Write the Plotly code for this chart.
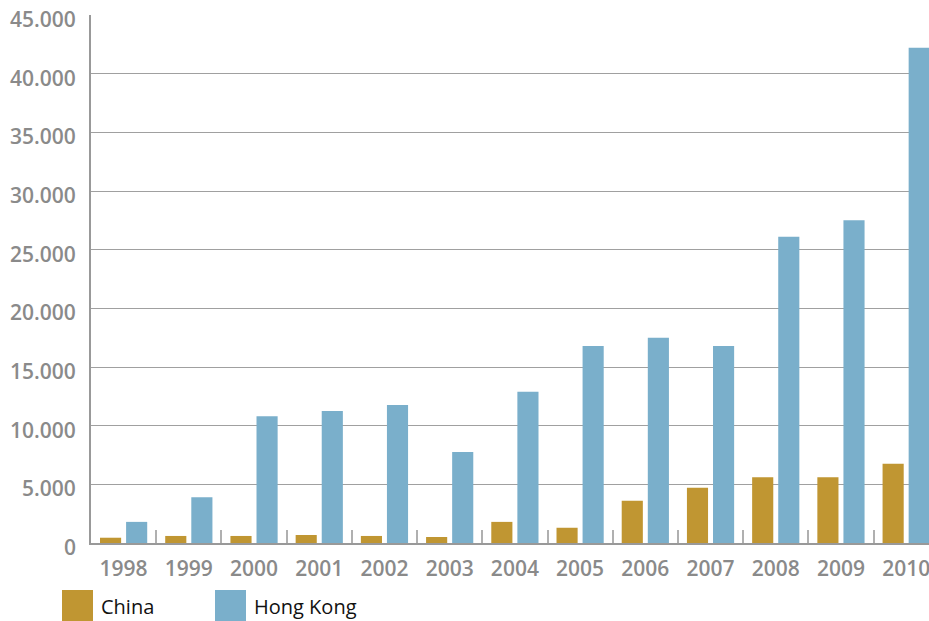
import plotly.graph_objects as go

years = ["1998", "1999", "2000", "2001", "2002", "2003", "2004",
         "2005", "2006", "2007", "2008", "2009", "2010"]
china = [450, 600, 600, 680, 600, 510, 1800, 1300, 3600, 4700, 5600, 5600, 6750]
hong_kong = [1800, 3900, 10800, 11250, 11760, 7750, 12900, 16800, 17500, 16800,
             26100, 27500, 42200]
series_names = ["China", "Hong Kong"]
series_colors = ["#C09632", "#7AAFCB"]
y_ticks = [0, 5000, 10000, 15000, 20000, 25000, 30000, 35000, 40000, 45000]

W, H = 929, 621
L, R, T, B = 91, 0, 15, 78
plot_w, plot_h = W - L - R, H - T - B

fig = go.Figure()
for name, vals, col in zip(series_names, [china, hong_kong], series_colors):
    fig.add_trace(go.Bar(x=years, y=vals, name=name, marker_color=col,
                         marker_line_width=0, showlegend=False))

label_font = dict(family="Open Sans", size=21, color="#8a8a8a", weight=600)

fig.update_layout(
    width=W, height=H,
    margin=dict(l=L, r=R, t=T, b=B),
    paper_bgcolor="white", plot_bgcolor="white",
    barmode="group", bargap=0.2, bargroupgap=0.19,
    separators=",.",
    xaxis=dict(
        type="category", range=[-0.5, 12.35], automargin=False,
        showgrid=False, showline=True, linecolor="#999999", linewidth=1.5,
        ticks="inside", tickson="boundaries", ticklen=13, tickwidth=1.5,
        tickcolor="#b0b0b0", tickfont=label_font, ticklabelstandoff=6,
    ),
    yaxis=dict(
        range=[0, 45000], tickvals=y_ticks, showticklabels=False,
        automargin=False, showgrid=True, gridcolor="#a0a0a0", gridwidth=1.2,
        zeroline=False, showline=True, linecolor="#999999", linewidth=1.5,
        ticks="",
    ),
)

# value labels on the y axis, sitting slightly below each gridline
for v in y_ticks:
    fig.add_annotation(xref="paper", yref="y", x=(78 - L) / plot_w, y=v,
                       text=f"{v:,}".replace(",", "."), showarrow=False,
                       xanchor="right", yanchor="middle", yshift=-4,
                       font=label_font)

# legend: swatches and names below the axis
legend_x = [62, 215]
for x0, name, col in zip(legend_x, series_names, series_colors):
    fig.add_shape(type="rect", xref="paper", yref="paper",
                  x0=(x0 - L) / plot_w, x1=(x0 + 31 - L) / plot_w,
                  y0=(H - B - 621) / plot_h, y1=(H - B - 590) / plot_h,
                  fillcolor=col, line_width=0)
    fig.add_annotation(xref="paper", yref="paper",
                       x=(x0 + 37 - L) / plot_w, y=(H - B - 606) / plot_h,
                       text=name, showarrow=False, xanchor="left", yanchor="middle",
                       font=dict(family="Open Sans", size=20, color="#111111"))

fig.write_html("out.html")
